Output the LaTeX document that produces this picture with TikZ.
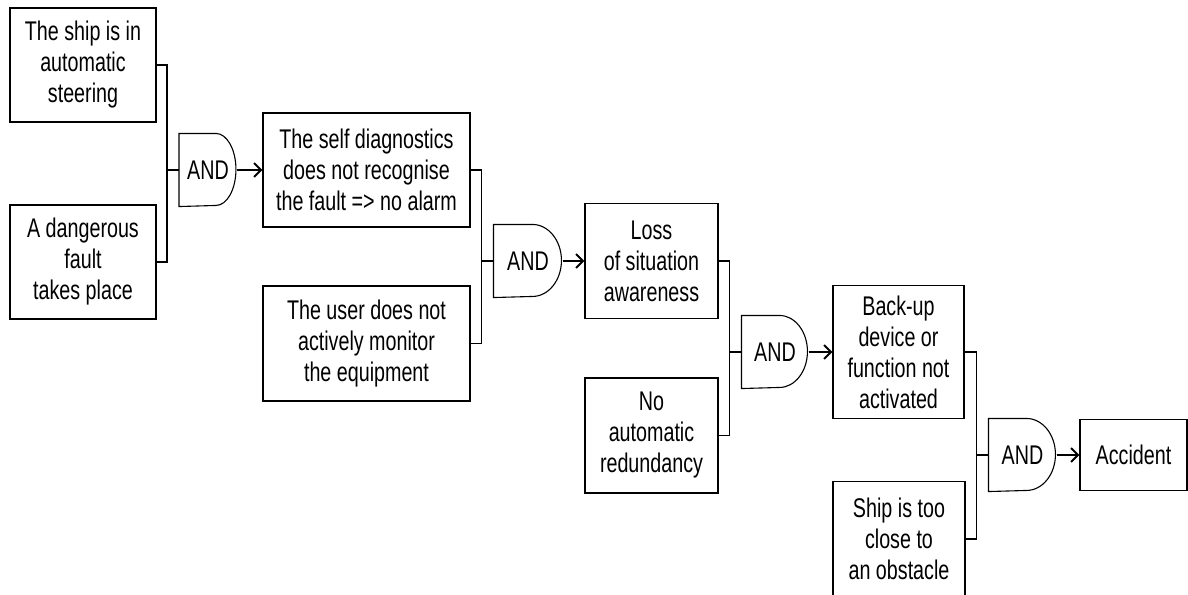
\documentclass[tikz,border=0pt]{standalone}
\usepackage{fontspec}
\setmainfont[FakeStretch=0.73]{Liberation Sans}
\usetikzlibrary{arrows.meta}

\begin{document}
\begin{tikzpicture}[x=1pt,y=-1pt,
    line width=1.1pt,
    font=\fontsize{27}{31}\selectfont,
    event/.style={draw, align=center, inner sep=0pt},
    gate/.style={inner sep=0pt, minimum height=72pt},
    link/.style={line width=2pt, -{Straight Barb[length=7pt,width=14pt]}}]
    \useasboundingbox (0,0) rectangle (1188,594);

    \node[event, minimum width=146pt, minimum height=114pt] (ship) at (83,65) {The ship is in\\automatic\\steering};
    \node[event, minimum width=146pt, minimum height=114pt] (fault) at (83,262) {A dangerous\\fault\\takes place};
    \node[gate, minimum width=57pt] (and1) at (208,170) {AND};

    \node[event, minimum width=207pt, minimum height=114pt] (diag) at (366.5,170) {The self diagnostics\\does not recognise\\the fault => no alarm};
    \node[event, minimum width=207pt, minimum height=115pt] (user) at (366.5,343.5) {The user does not\\actively monitor\\the equipment};
    \node[gate, minimum width=68pt] (and2) at (528,261) {AND};

    \node[event, minimum width=133pt, minimum height=115pt] (loss) at (651.5,261) {Loss\\of situation\\awareness};
    \node[event, minimum width=133pt, minimum height=115pt] (redund) at (651.5,435.5) {No\\automatic\\redundancy};
    \node[gate, minimum width=66pt] (and3) at (775,352) {AND};

    \node[event, minimum width=131pt, minimum height=133pt] (backup) at (898.5,352) {Back-up\\device or\\function not\\activated};
    \node[event, minimum width=132pt, minimum height=115pt] (close) at (899,539) {Ship is too\\close to\\an obstacle};
    \node[gate, minimum width=67pt] (and4) at (1022.5,455) {AND};

    \node[event, minimum width=107pt, minimum height=71pt] (accident) at (1133.5,455) {Accident};

    \foreach \g/\f/\r in {and1/37/20, and2/39/29, and3/38/28, and4/38/29}
        \draw (\g.north west) -- ++(\f pt,0) arc[start angle=90, end angle=-90, x radius=\r pt, y radius=36pt] -- (\g.south west) -- cycle;

    \draw (ship.east) -| ([xshift=-12pt]and1.west) |- (fault.east);
    \draw ([xshift=-12pt]and1.west) -- (and1.west);
    \draw (diag.east) -| ([xshift=-12pt]and2.west) |- (user.east);
    \draw ([xshift=-12pt]and2.west) -- (and2.west);
    \draw (loss.east) -| ([xshift=-12pt]and3.west) |- (redund.east);
    \draw ([xshift=-12pt]and3.west) -- (and3.west);
    \draw (backup.east) -| ([xshift=-12pt]and4.west) |- (close.east);
    \draw ([xshift=-12pt]and4.west) -- (and4.west);

    \draw[link] (and1.east) -- (diag.west);
    \draw[link] (and2.east) -- (loss.west);
    \draw[link] (and3.east) -- (backup.west);
    \draw[link] (and4.east) -- (accident.west);
\end{tikzpicture}
\end{document}
